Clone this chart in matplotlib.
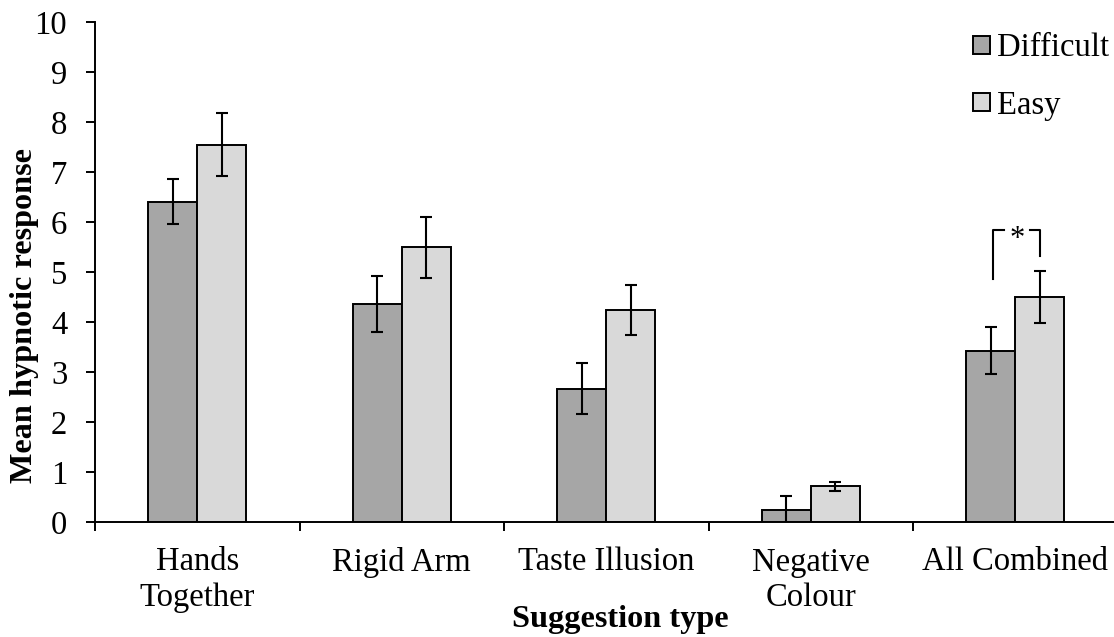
import numpy as np
import matplotlib.pyplot as plt

# Values
categories = ['Hands\nTogether', 'Rigid Arm', 'Taste Illusion', 'Negative\nColour', 'All Combined']
difficult = [6.41, 4.37, 2.67, 0.24, 3.43]
difficult_err = [0.45, 0.56, 0.51, 0.29, 0.47]
easy = [7.55, 5.50, 4.24, 0.72, 4.51]
easy_err = [0.63, 0.61, 0.50, 0.09, 0.52]

plt.rcParams['font.family'] = ['Liberation Serif', 'DejaVu Serif']
plt.rcParams['font.size'] = 23.5

fig = plt.figure(figsize=(11.14, 6.37), dpi=100)
W, H = 1114, 637
ax = fig.add_axes([95 / W, 1 - 522 / H, 1022.5 / W, 500 / H])

x = np.arange(len(categories))
w = 0.24
err_kw = dict(ecolor='black', elinewidth=1.5, capsize=4.3, capthick=1.5)
ax.bar(x - w / 2, difficult, w, yerr=difficult_err, color='#a6a6a6', edgecolor='black',
       linewidth=1.4, label='Difficult', error_kw=err_kw)
ax.bar(x + w / 2, easy, w, yerr=easy_err, color='#d9d9d9', edgecolor='black',
       linewidth=1.4, label='Easy', error_kw=err_kw)

# significance bracket on All Combined
ax.plot([3.89, 3.89, 3.945], [4.86, 5.84, 5.84], color='black', lw=1.5)
ax.plot([4.072, 4.121, 4.121], [5.84, 5.84, 5.32], color='black', lw=1.5)
ax.text(4.008, 5.66, '*', ha='center', va='center', fontsize=22)

ax.set_xlim(-0.5, 4.5)
ax.set_ylim(0, 10)
ax.set_yticks(range(0, 11))
ax.set_xticks(x)
ax.set_xticklabels(categories, linespacing=1.2)
ax.set_xticks(np.arange(-0.5, 5, 1), minor=True)
ax.tick_params(axis='x', which='major', length=0, pad=18)
ax.tick_params(axis='x', which='minor', length=6.5, width=1.4, direction='out')
ax.tick_params(axis='y', length=6.5, width=1.4, direction='out', pad=13.5)

for side in ['top', 'right']:
    ax.spines[side].set_visible(False)
for side in ['left', 'bottom']:
    ax.spines[side].set_linewidth(1.4)

fig.text(25 / W, 1 - 316 / H, 'Mean hypnotic response', rotation=90, ha='center', va='center',
         fontweight='bold', fontsize=23.2)
fig.text(620 / W, 1 - 620 / H, 'Suggestion type', ha='center', va='center',
         fontweight='bold', fontsize=23.2)

ax.legend(loc='upper left', bbox_to_anchor=(973 / W, 1 - 33 / H), bbox_transform=fig.transFigure,
          frameon=False, borderpad=0, borderaxespad=0, handlelength=0.51, handleheight=0.47,
          handletextpad=0.22, labelspacing=0.83, fontsize=23.5)

plt.savefig('out.png', dpi=100)
